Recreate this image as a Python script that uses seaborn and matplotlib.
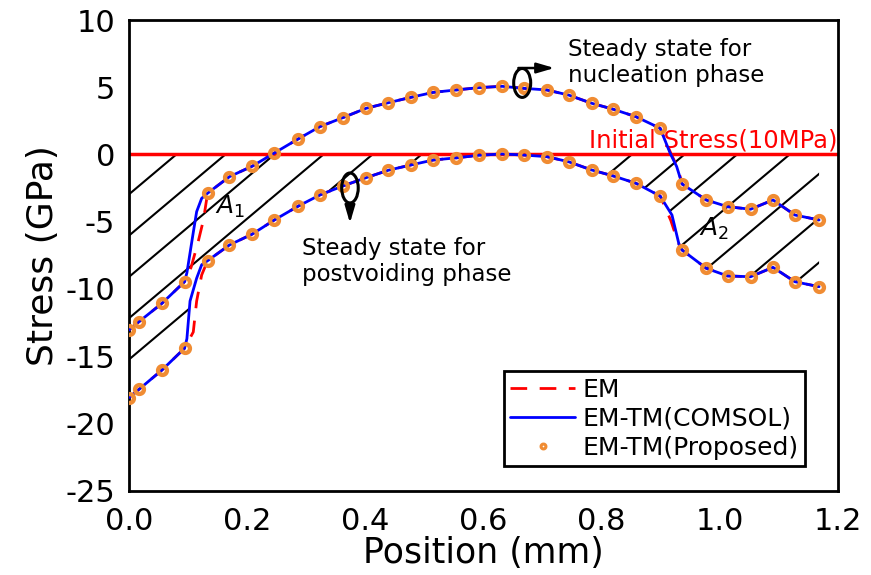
import numpy as np
import pandas as pd
import matplotlib
matplotlib.use("Agg")
import matplotlib.pyplot as plt
from matplotlib.patches import Ellipse
from matplotlib.lines import Line2D
from matplotlib.transforms import TransformedPath
from matplotlib.ticker import MultipleLocator
import seaborn as sns

# Sample positions along the interconnect (mm)
position_mm = [0.000, 0.017, 0.056, 0.094, 0.133, 0.170, 0.209, 0.246, 0.286, 0.323,
               0.362, 0.401, 0.439, 0.477, 0.515, 0.554, 0.592, 0.631, 0.668, 0.707,
               0.744, 0.783, 0.820, 0.858, 0.899, 0.936, 0.977, 1.013, 1.052, 1.090,
               1.127, 1.168]
# Steady-state stress, nucleation phase (GPa)
nucleation_gpa = [-13.05, -12.43, -11.06, -9.46, -2.88, -1.65, -0.86, 0.11, 1.15, 2.07,
                  2.74, 3.43, 3.85, 4.25, 4.62, 4.80, 4.97, 5.07, 4.92, 4.80,
                  4.42, 3.81, 3.36, 2.81, 1.95, -2.19, -3.38, -3.88, -4.07, -3.38,
                  -4.50, -4.87]
# Steady-state stress, post-voiding phase (GPa)
postvoiding_gpa = [-18.07, -17.46, -16.02, -14.41, -7.90, -6.73, -5.91, -4.87, -3.85, -3.01,
                   -2.34, -1.73, -1.17, -0.78, -0.41, -0.25, -0.06, 0.04, -0.04, -0.16,
                   -0.54, -1.15, -1.60, -2.14, -3.09, -7.10, -8.46, -9.03, -9.09, -8.39,
                   -9.46, -9.83]

# Extra solver points resolving the steep segments near the segment junctions
comsol_nuc_x = [0.098, 0.109, 0.1145, 0.123, 0.916, 0.927]
comsol_nuc_y = [-8.8, -5.74, -4.25, -3.26, 0.09, -0.9]
comsol_post_x = [0.098, 0.1033, 0.1145, 0.123, 0.919, 0.931]
comsol_post_y = [-13.7, -10.9, -9.2, -8.2, -4.5, -6.7]
em_nuc_x = [0.105, 0.117, 0.126, 0.918, 0.929]
em_nuc_y = [-8.4, -6.5, -4.87, 0.0, -1.0]
em_post_x = [0.1088, 0.1145, 0.123, 0.917, 0.929]
em_post_y = [-13.2, -10.9, -8.96, -4.9, -6.5]

initial_stress_gpa = 0.01  # 10 MPa

sns.set_style("white")
plt.rcParams["font.family"] = ["DejaVu Sans"]
plt.rcParams["axes.unicode_minus"] = False
plt.rcParams["mathtext.fontset"] = "dejavusans"
for key in ["text.color", "axes.labelcolor", "xtick.color", "ytick.color", "axes.edgecolor"]:
    plt.rcParams[key] = "black"

ORANGE = "#F08C33"


def merged(xa, ya, xb, yb):
    df = pd.DataFrame({"x": list(xa) + list(xb), "y": list(ya) + list(yb)})
    return df.sort_values("x").reset_index(drop=True)


em_nuc = merged(position_mm, nucleation_gpa, em_nuc_x, em_nuc_y)
em_post = merged(position_mm, postvoiding_gpa, em_post_x, em_post_y)
cs_nuc = merged(position_mm, nucleation_gpa, comsol_nuc_x, comsol_nuc_y)
cs_post = merged(position_mm, postvoiding_gpa, comsol_post_x, comsol_post_y)
proposed = pd.DataFrame({"x": position_mm, "nuc": nucleation_gpa, "post": postvoiding_gpa})

fig = plt.figure(figsize=(8.71, 5.75), dpi=100)
ax = fig.add_axes([0.1481, 0.1466, 0.8140, 0.8186])
ax.set_xlim(0, 1.2)
ax.set_ylim(-25, 10)


def hatch_region(x_lo, x_hi, curve, intercepts, slope):
    xx = np.linspace(x_lo, x_hi, 400)
    yy = np.interp(xx, curve["x"], curve["y"])
    poly = ax.fill_between(xx, yy, 0, facecolor="none", edgecolor="none", linewidth=0)
    clip = TransformedPath(poly.get_paths()[0], ax.transData)
    for x0 in intercepts:
        xl = np.array([x0 - 1.0, x0 + 0.2])
        ln, = ax.plot(xl, slope * (xl - x0), color="black", lw=1.5, zorder=1)
        ln.set_clip_path(clip)


hatch_region(0.0, 0.5, cs_post, 0.08 + 0.083 * np.arange(6), 37.0)
hatch_region(0.79, 1.168, cs_post, 0.851 + 0.089 * np.arange(7), 37.0)

ax.axhline(initial_stress_gpa, color="#FF0000", lw=2.5, zorder=2)
ax.text(1.199, 0.55, "Initial Stress(10MPa)", color="#FF0000", fontsize=17.5,
        ha="right", va="baseline", zorder=2.5)

dash = (6, 4.5)
sns.lineplot(data=em_nuc, x="x", y="y", color="#FF0000", lw=2,
             sort=False, estimator=None, ax=ax, zorder=3)
ax.lines[-1].set_dashes(dash)
sns.lineplot(data=em_post, x="x", y="y", color="#FF0000", lw=2,
             sort=False, estimator=None, ax=ax, zorder=3)
ax.lines[-1].set_dashes(dash)
sns.lineplot(data=cs_nuc, x="x", y="y", color="#0000FF", lw=2,
             sort=False, estimator=None, ax=ax, zorder=4)
sns.lineplot(data=cs_post, x="x", y="y", color="#0000FF", lw=2,
             sort=False, estimator=None, ax=ax, zorder=4)

for col in ["nuc", "post"]:
    sns.lineplot(data=proposed, x="x", y=col, linestyle="none", marker="o", ms=6.4,
                 mfc="none", mec=ORANGE, mew=3.1, sort=False, estimator=None,
                 ax=ax, zorder=5)

# Ellipse + arrow markers pointing to the two steady-state curves
arrow = "-|>,head_length=0.75,head_width=0.22"
ax.add_patch(Ellipse((0.6655, 5.32), 0.0288, 2.15, fill=False, ec="black", lw=2.2, zorder=6))
ax.annotate("", xy=(0.720, 6.43), xytext=(0.659, 6.43),
            arrowprops=dict(arrowstyle=arrow, color="black", lw=1.8, mutation_scale=14,
                            shrinkA=0, shrinkB=0), zorder=6)
ax.add_patch(Ellipse((0.374, -2.49), 0.028, 2.23, fill=False, ec="black", lw=2.2, zorder=6))
ax.annotate("", xy=(0.374, -5.1), xytext=(0.374, -3.6),
            arrowprops=dict(arrowstyle=arrow, color="black", lw=1.8, mutation_scale=14,
                            shrinkA=0, shrinkB=0), zorder=6)

ax.text(0.743, 6.84, "Steady state for\nnucleation phase", fontsize=16.5,
        ha="left", va="center", linespacing=1.2)
ax.text(0.2923, -7.97, "Steady state for\npostvoiding phase", fontsize=16.5,
        ha="left", va="center", linespacing=1.2)
ax.text(0.171, -3.9, r"$A_1$", fontsize=18, ha="center", va="center")
ax.text(0.990, -5.5, r"$A_2$", fontsize=18, ha="center", va="center")

ax.xaxis.set_major_locator(MultipleLocator(0.2))
ax.xaxis.set_minor_locator(MultipleLocator(0.1))
ax.yaxis.set_major_locator(MultipleLocator(5))
ax.yaxis.set_minor_locator(MultipleLocator(2.5))
ax.tick_params(which="major", direction="in", length=7, width=2, labelsize=22, pad=10)
ax.tick_params(which="minor", direction="in", length=3.5, width=1.5)
ax.tick_params(axis="x", which="major", pad=12)
for sp in ax.spines.values():
    sp.set_visible(True)
    sp.set_color("black")
    sp.set_linewidth(2)

ax.set_xlabel("Position (mm)", fontsize=25, labelpad=0)
ax.set_ylabel("Stress (GPa)", fontsize=26, labelpad=4)

handles = [
    Line2D([], [], color="#FF0000", lw=2, dashes=dash),
    Line2D([], [], color="#0000FF", lw=2),
    Line2D([], [], linestyle="none", marker="o", ms=3.5, mfc="white", mec=ORANGE, mew=2.2),
]
leg = ax.legend(handles, ["EM", "EM-TM(COMSOL)", "EM-TM(Proposed)"],
                loc="lower right", bbox_to_anchor=(0.9535, 0.0525), borderaxespad=0,
                fontsize=18, frameon=True, fancybox=False, framealpha=1,
                edgecolor="black", handlelength=2.6, handletextpad=0.3,
                labelspacing=0.2, borderpad=0.25)
leg.get_frame().set_linewidth(2)
leg.set_zorder(10)

fig.savefig("out.png", dpi=100)
